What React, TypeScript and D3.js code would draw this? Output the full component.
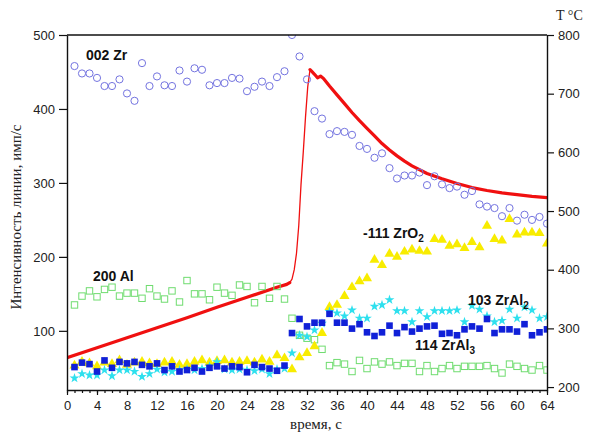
import React, { useEffect, useRef } from "react";
import * as d3 from "d3";

const seconds = [1,2,3,4,5,6,7,8,9,10,11,12,13,14,15,16,17,18,19,20,21,22,23,24,25,26,27,28,29,30,31,32,33,34,35,36,37,38,39,40,41,42,43,44,45,46,47,48,49,50,51,52,53,54,55,56,57,58,59,60,61,62,63,64];

const zr002 = [458,448,448,442,431,431,440,421,411,462, 431,444,432,431,452,437,455,453,432,435, 435,442,441,424,430,437,431,443,451,500, 471,440,397,387,366,370,369,365,350,346, 334,340,320,306,310,310,314,297,309,298, 293,295,284,289,271,268,266,255,266,249, 257,250,254,245];
const al200 = [135,147,154,146,156,159,147,151,151,144, 157,147,143,154,139,168,150,150,142,159, 151,148,162,160,138,160,144,160,143,117, 94,90,88,75,53,57,55,45,60,49, 58,55,58,53,56,56,45,53,45,49, 53,49,52,52,52,53,49,43,55,52, 49,47,53,47];
const zrO2 = [53,58,56,52,57,55,60,54,57,58, 56,55,57,58,54,55,58,60,57,59, 60,57,58,59,57,61,58,67,63,48, 64,70,79,97,132,135,147,159,167,171, 196,189,204,200,207,210,208,207,224,223, 215,217,212,220,213,242,224,222,251,230, 233,233,232,218];
const zrAl2 = [36,42,40,40,47,39,47,47,45,38, 42,48,44,45,47,48,47,49,52,58, 48,47,48,47,46,48,42,48,49,70, 94,92,101,110,126,124,120,128,117,117, 133,135,142,127,127,112,127,119,127,127, 127,128,112,134,129,120,112,114,129,117, 132,128,117,119];
const zrAl3 = [51,57,55,45,60,50,58,56,58,54, 52,56,47,52,45,47,50,45,50,52, 49,52,51,44,54,51,49,46,53,97, 116,106,111,111,123,111,111,103,109,98, 93,98,107,97,105,99,103,106,107,96, 97,94,102,106,103,116,97,102,102,99, 109,94,98,102];

const tempTime = [0,4,8,12,16,20,24,28,29.3,29.7,30.0,30.3,30.6,30.9,31.2,31.5,31.8,32.1,32.4,32.7,33.0,33.4,33.8,34.2,35,36,37,38,39,40,41,42,43,44,45,46,48,50,52,54,56,58,60,62,64];
const tempValue = [250,267,284,301,318,336,353,370,375,378,384,400,428,475,545,600,660,712,741,737,733,727,730,726,713,698,683,668,654,641,628,615,604,594,585,577,564,555,547,540,535,531,528,525,523];

const xTicks = [0,4,8,12,16,20,24,28,32,36,40,44,48,52,56,60,64];
const xMinorTicks = d3.range(0, 65, 1);
const leftTicks = [100,200,300,400,500];
const rightTicks = [200,300,400,500,600,700,800];

const W = 592, H = 434;
const L = 67, R = 547, T = 35, B = 390;
const SANS = "'Liberation Sans', Arial, sans-serif";
const SERIF = "'Liberation Serif', 'Times New Roman', serif";

export default function App() {
  const ref = useRef<SVGSVGElement>(null);
  useEffect(() => {
    const svg = d3.select(ref.current);
    svg.selectAll("*").remove();
    const x = d3.scaleLinear().domain([0, 64]).range([L, R]);
    const yL = d3.scaleLinear().domain([20, 500]).range([B, T]);
    const yR = d3.scaleLinear().domain([195, 800]).range([B, T]);

    svg.append("defs").append("clipPath").attr("id", "plotclip")
      .append("rect").attr("x", L).attr("y", T).attr("width", R - L).attr("height", B - T);

    const g = svg.append("g").attr("clip-path", "url(#plotclip)");

    // temperature line (right axis)
    const idx = tempValue.map((_, i) => i);
    const seg = (from: number, to: number) => idx.filter((i) => tempTime[i] >= from && tempTime[i] <= to);
    const drawSeg = (ids: number[], w: number) => {
      g.append("path")
        .attr("d", d3.line<number>().x((i) => x(tempTime[i])).y((i) => yR(tempValue[i]))(ids) as string)
        .attr("fill", "none").attr("stroke", "#f01010").attr("stroke-width", w)
        .attr("stroke-linejoin", "round").attr("stroke-linecap", "round");
    };
    drawSeg(seg(0, 29.7), 3.2);
    drawSeg(seg(29.7, 32.4), 1.3);
    drawSeg(seg(32.4, 64), 3.2);

    // green open squares
    g.selectAll("rect.al").data(al200).enter().append("rect")
      .attr("x", (d, i) => x(seconds[i]) - 3.2).attr("y", (d) => yL(d) - 3.2)
      .attr("width", 6.4).attr("height", 6.4)
      .attr("fill", "none").attr("stroke", "#6fdc6f").attr("stroke-width", 1);

    // blue open circles
    g.selectAll("circle.zr").data(zr002).enter().append("circle")
      .attr("cx", (d, i) => x(seconds[i])).attr("cy", (d) => yL(d)).attr("r", 3.6)
      .attr("fill", "none").attr("stroke", "#7474e0").attr("stroke-width", 1);

    // yellow triangles
    const tri = d3.symbol().type(d3.symbolTriangle).size(44)();
    g.selectAll("path.zro2").data(zrO2).enter().append("path")
      .attr("d", tri as string)
      .attr("transform", (d, i) => `translate(${x(seconds[i])},${yL(d)})`)
      .attr("fill", "#f8ec00");

    // cyan stars
    const star = d3.symbol().type(d3.symbolStar).size(30)();
    g.selectAll("path.zral2").data(zrAl2).enter().append("path")
      .attr("d", star as string)
      .attr("transform", (d, i) => `translate(${x(seconds[i])},${yL(d)})`)
      .attr("fill", "#2ee0ee");

    // blue filled squares
    g.selectAll("rect.zral3").data(zrAl3).enter().append("rect")
      .attr("x", (d, i) => x(seconds[i]) - 3.3).attr("y", (d) => yL(d) - 3.3)
      .attr("width", 6.6).attr("height", 6.6)
      .attr("fill", "#1020d8");

    // axes
    const styleAxis = (sel: any) => {
      sel.selectAll("path.domain").attr("stroke", "#111").attr("stroke-width", 1.4);
      sel.selectAll(".tick line").attr("stroke", "#111").attr("stroke-width", 1.2);
      sel.selectAll(".tick text").attr("font-family", SANS).attr("font-size", 13).attr("fill", "#222");
    };

    const ax = svg.append("g").attr("transform", `translate(0,${B})`)
      .call(d3.axisBottom(x).tickValues(xMinorTicks).tickSize(3).tickSizeOuter(0).tickFormat(() => ""));
    styleAxis(ax);
    const axM = svg.append("g").attr("transform", `translate(0,${B})`)
      .call(d3.axisBottom(x).tickValues(xTicks).tickSize(5).tickSizeOuter(0).tickPadding(6).tickFormat(d3.format("d")));
    styleAxis(axM);
    axM.select("path.domain").remove();

    const ayL = svg.append("g").attr("transform", `translate(${L},0)`)
      .call(d3.axisLeft(yL).tickValues(leftTicks).tickSize(8).tickSizeOuter(0).tickPadding(4));
    styleAxis(ayL);

    const ayR = svg.append("g").attr("transform", `translate(${R},0)`)
      .call(d3.axisRight(yR).tickValues(rightTicks).tickSize(7).tickSizeOuter(0).tickPadding(4));
    styleAxis(ayR);

    svg.append("line").attr("x1", L).attr("x2", R).attr("y1", T).attr("y2", T)
      .attr("stroke", "#111").attr("stroke-width", 1.4);

    // axis titles
    svg.append("text").attr("x", 316).attr("y", 429).attr("text-anchor", "middle")
      .attr("font-family", SERIF).attr("font-size", 15).attr("fill", "#222").text("время, с");
    svg.append("text").attr("transform", `translate(21,217) rotate(-90)`).attr("text-anchor", "middle")
      .attr("font-family", SERIF).attr("font-size", 15).attr("fill", "#222").text("Интенсивность линии, имп/с");
    svg.append("text").attr("x", 556).attr("y", 20)
      .attr("font-family", SERIF).attr("font-size", 14).attr("fill", "#222").text("T °C");

    // annotations
    const ann = (tx: number, ty: number, main: string, sub?: string) => {
      const t = svg.append("text").attr("x", tx).attr("y", ty)
        .attr("font-family", SANS).attr("font-size", 14).attr("font-weight", "bold").attr("fill", "#111");
      t.append("tspan").text(main);
      if (sub) t.append("tspan").attr("font-size", 10).attr("dy", 4).text(sub);
    };
    ann(86, 60, "002 Zr");
    ann(93, 281, "200 Al");
    ann(363, 238, "-111 ZrO", "2");
    ann(468, 305, "103 ZrAl", "2");
    ann(415, 350, "114 ZrAl", "3");
  }, []);

  return (
    <svg ref={ref} width={W} height={H}
      style={{ position: "absolute", left: 0, top: 0, background: "#fff" }} />
  );
}
